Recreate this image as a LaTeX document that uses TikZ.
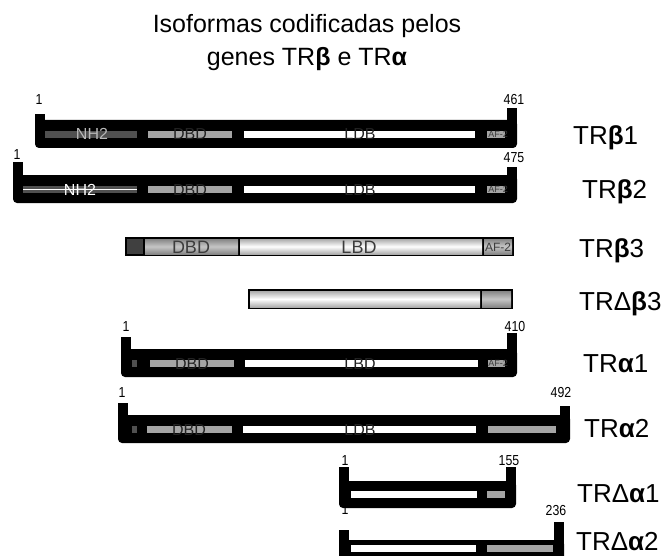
\documentclass[tikz,border=0pt]{standalone}
\usepackage{fontspec}
\setmainfont{Liberation Sans}
\newfontfamily\numfont{Liberation Sans}[FakeStretch=0.85]
\usetikzlibrary{positioning}
\definecolor{nhgray}{RGB}{80,80,80}
\definecolor{dbdgray}{RGB}{165,165,165}
\definecolor{txtgray}{RGB}{60,60,60}
\definecolor{hidgray}{RGB}{34,34,34}
% black body with the two end posts: x1, x2, left post top, right post top, body top, body bottom
\newcommand{\isobar}[6]{%
  \fill[rounded corners=4pt] (#1,#5) rectangle (#2,#6);
  \fill (#1,#3) rectangle ({#1+10},{#5+8});
  \fill ({#2-10},#4) rectangle (#2,{#5+8});}
% thin domain strip inside a bar: x1, x2, centre y, colour
\newcommand{\domstrip}[4]{\fill[#4] (#1,{#3-3.5}) rectangle (#2,{#3+3.5});}

\begin{document}
\begin{tikzpicture}[x=1pt,y=-1pt,
    isoname/.style={anchor=base west,inner sep=0pt,font=\fontsize{26}{30}\selectfont},
    aanum/.style={anchor=base,inner sep=0pt,font=\numfont\fontsize{14.5}{16}\selectfont},
    domlabel/.style={anchor=base,inner sep=0pt,text=hidgray,font=\fontsize{16}{18}\selectfont},
    aflabel/.style={anchor=base,inner sep=0pt,text=txtgray,font=\fontsize{9}{10}\selectfont},
    cylgray/.style={top color=gray!95,bottom color=gray!95,middle color=gray!45},
    cylwhite/.style={top color=gray!65,bottom color=gray!65,middle color=white}]
  \useasboundingbox (0,0) rectangle (663,556);
  \clip (0,0) rectangle (663,556);
  % title
  \node[anchor=base,inner sep=0pt,font=\fontsize{25}{30}\selectfont]
    (title1) at (307,33) {Isoformas codificadas pelos};
  \node[anchor=base,inner sep=0pt,font=\fontsize{25}{30}\selectfont]
    (title2) at (307,66) {genes TR{\bfseries β} e TR{\bfseries α}};

  % amino acid positions
  \node[aanum] (b1start) at (39,105) {1};
  \node[aanum] (b1end) at (514,105) {461};
  \node[aanum] (b2start) at (17,160) {1};
  \node[aanum] (b2end) at (514,163) {475};
  \node[aanum] (a1start) at (126,331) {1};
  \node[aanum] (a1end) at (515,331) {410};
  \node[aanum] (a2start) at (122,397) {1};
  \node[aanum] (a2end) at (561,397) {492};
  \node[aanum] (da1start) at (345,465) {1};
  \node[aanum] (da1end) at (509,465) {155};
  \node[aanum] (da2start) at (345,514) {1};
  \node[aanum] (da2end) at (556,515) {236};

  % TRb1
  \isobar{35}{517}{114}{108}{120}{148}
  \domstrip{45}{137}{134.5}{nhgray}
  \domstrip{148}{232}{134.5}{dbdgray}
  \domstrip{244}{475}{134.5}{white}
  \domstrip{487}{505}{134.5}{dbdgray}
  \node[domlabel,text=gray!55] (b1nh) at (92,140) {NH2};
  \node[domlabel] (b1dbd) at (190,140) {DBD};
  \node[domlabel] (b1lbd) at (360,140) {LDB};
  \node[aflabel] (b1af) at (498,137.5) {AF-2};

  % TRb2
  \isobar{13}{517}{162}{167}{175}{203}
  \domstrip{23}{137}{189}{nhgray}
  \draw[white,line width=1pt] (23,189) -- (137,189);
  \domstrip{148}{232}{189}{dbdgray}
  \domstrip{244}{475}{189}{white}
  \domstrip{487}{505}{189}{dbdgray}
  \node[domlabel,text=white] (b2nh) at (80,195) {NH2};
  \node[domlabel] (b2dbd) at (190,195) {DBD};
  \node[domlabel] (b2lbd) at (360,195) {LDB};
  \node[aflabel] (b2af) at (498,192) {AF-2};

  % TRb3
  \fill (125,237) rectangle (514,256);
  \fill[nhgray!80!black] (127,239) rectangle (143,254);
  \shade[cylgray] (145,239) rectangle (238,254);
  \shade[cylwhite] (240,239) rectangle (482,254);
  \shade[cylgray] (484,239) rectangle (512,254);
  \node[domlabel,text=txtgray,font=\fontsize{18}{20}\selectfont] (b3dbd) at (191,253) {DBD};
  \node[domlabel,text=txtgray,font=\fontsize{18}{20}\selectfont] (b3lbd) at (359,253) {LBD};
  \node[domlabel,text=txtgray,font=\fontsize{12}{14}\selectfont] (b3af) at (498,251) {AF-2};

  % TRdb3
  \fill (248,289) rectangle (513,309);
  \shade[cylwhite] (250,291) rectangle (480,307);
  \shade[cylgray] (482,291) rectangle (511,307);

  % TRa1
  \isobar{121}{517}{337}{333}{349}{377}
  \domstrip{132}{137}{363}{nhgray}
  \domstrip{150}{234}{363}{dbdgray}
  \domstrip{245}{478}{363}{white}
  \domstrip{488}{505}{363}{dbdgray}
  \node[domlabel] (a1dbd) at (192,369) {DBD};
  \node[domlabel] (a1lbd) at (360,369) {LBD};
  \node[aflabel] (a1af) at (498,366) {AF-2};

  % TRa2
  \isobar{118}{570}{403}{406}{415}{443}
  \domstrip{132}{137}{429}{nhgray}
  \domstrip{147}{232}{429}{dbdgray}
  \domstrip{243}{476}{429}{white}
  \domstrip{488}{556}{429}{dbdgray}
  \node[domlabel] (a2dbd) at (189,435) {DBD};
  \node[domlabel] (a2lbd) at (360,435) {LDB};

  % TRda1
  \isobar{339}{516}{467}{467}{481}{508}
  \domstrip{351}{477}{494}{white}
  \domstrip{487}{505}{494}{dbdgray}

  % TRda2
  \isobar{339}{564}{530}{522}{540}{568}
  \domstrip{351}{476}{548}{white}
  \domstrip{487}{553}{548}{dbdgray}

  % isoform names
  \node[isoname] (b1name) at (573,145) {TR{\bfseries β}1};
  \node[isoname] (b2name) at (582,198) {TR{\bfseries β}2};
  \node[isoname] (b3name) at (579,257) {TR{\bfseries β}3};
  \node[isoname] (db3name) at (579,310) {TRΔ{\bfseries β}3};
  \node[isoname] (a1name) at (583,372) {TR{\bfseries α}1};
  \node[isoname] (a2name) at (584,437) {TR{\bfseries α}2};
  \node[isoname] (da1name) at (577,502) {TRΔ{\bfseries α}1};
  \node[isoname] (da2name) at (576,550) {TRΔ{\bfseries α}2};
\end{tikzpicture}
\end{document}
